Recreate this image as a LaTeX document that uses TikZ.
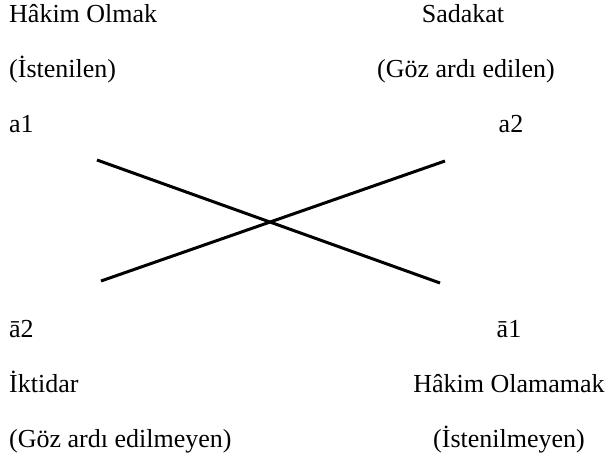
\documentclass[tikz,border=0pt]{standalone}
\usepackage{fontspec}
\setmainfont{Liberation Serif}
\usetikzlibrary{positioning}

\begin{document}
\begin{tikzpicture}[
    x=1pt, y=-1pt,
    font=\fontsize{26}{30}\selectfont,
    lbl/.style={inner sep=0pt, anchor=base west},
    rlbl/.style={inner sep=0pt, anchor=base},
    cross/.style={line width=3pt, black}
]
\useasboundingbox (0,0) rectangle (608,458);

% Left column (top)
\node[lbl] (dom)   at (9,22)  {Hâkim Olmak};
\node[lbl] (want)  at (9,77)  {(İstenilen)};
\node[lbl] (aone)  at (9,132) {a1};

% Right column (top)
\node[rlbl] (loyal)  at (463,22)  {Sadakat};
\node[rlbl] (ignore) at (466,77)  {(Göz ardı edilen)};
\node[rlbl] (atwo)   at (511,132) {a2};

% Left column (bottom)
\node[lbl] (natwo) at (9,337) {ā2};
\node[lbl] (power) at (9,392) {İktidar};
\node[lbl] (noign) at (9,447) {(Göz ardı edilmeyen)};

% Right column (bottom)
\node[rlbl] (naone)  at (509,337) {ā1};
\node[rlbl] (nodom)  at (509,392) {Hâkim Olamamak};
\node[rlbl] (nowant) at (509,447) {(İstenilmeyen)};

% Cross end points
\coordinate (ulc) at (97,160);
\coordinate (lrc) at (440,283);
\coordinate (llc) at (101,281);
\coordinate (urc) at (445,161);

% Cross
\draw[cross] (ulc) -- (lrc);
\draw[cross] (llc) -- (urc);

\end{tikzpicture}
\end{document}
